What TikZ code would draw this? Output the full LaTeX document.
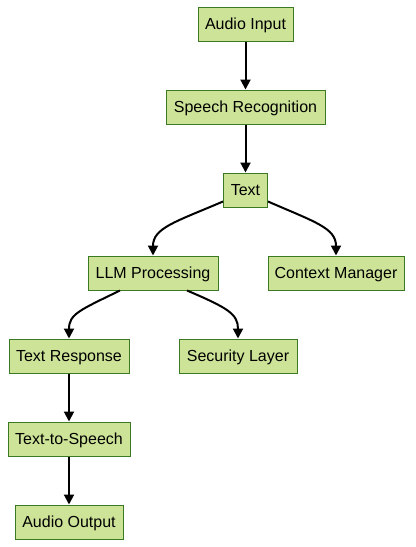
\documentclass[tikz,border=0pt]{standalone}
\usepackage{fontspec}
\setmainfont{Liberation Sans}
\usetikzlibrary{arrows.meta}
\definecolor{boxfill}{HTML}{CDE498}
\definecolor{boxline}{HTML}{3B7A22}
\begin{document}
\begin{tikzpicture}[x=0.75pt,y=-0.75pt,
  box/.style={draw=boxline,fill=boxfill,line width=0.75pt,minimum height=25.5pt,
    minimum width=#1*0.75pt,inner sep=0pt,text height=11pt,text depth=3pt,
    font=\fontsize{12}{14}\selectfont},
  conn/.style={line width=1.5pt,-{Triangle[length=7.5pt,width=7.5pt]}}]
\useasboundingbox (0,0) rectangle (415,547);
\node[box=95]  (ai) at (245.5,24)  {Audio Input};
\node[box=159] (sr) at (245.5,107) {Speech Recognition};
\node[box=44]  (tx) at (245.5,190) {Text};
\node[box=130] (llm) at (153,273)  {LLM Processing};
\node[box=136] (cm) at (336,273)   {Context Manager};
\node[box=120] (tr) at (69,356)    {Text Response};
\node[box=118] (sl) at (238,356)   {Security Layer};
\node[box=122] (tts) at (69,439)   {Text-to-Speech};
\node[box=108] (ao) at (69,522)    {Audio Output};
\draw[conn] (ai) -- (sr);
\draw[conn] (sr) -- (tx);
\draw[conn] (tx.south west) ++(0,-6) .. controls (175,222) and (153,228) .. (llm.north);
\draw[conn] (tx.south east) ++(0,-6) .. controls (315,222) and (336,228) .. (cm.north);
\draw[conn] (llm.south) ++(-33,0) .. controls (80,310) and (69,314) .. (tr.north);
\draw[conn] (llm.south) ++(34,0) .. controls (228,308) and (238,314) .. (sl.north);
\draw[conn] (tr) -- (tts);
\draw[conn] (tts) -- (ao);
\end{tikzpicture}
\end{document}
